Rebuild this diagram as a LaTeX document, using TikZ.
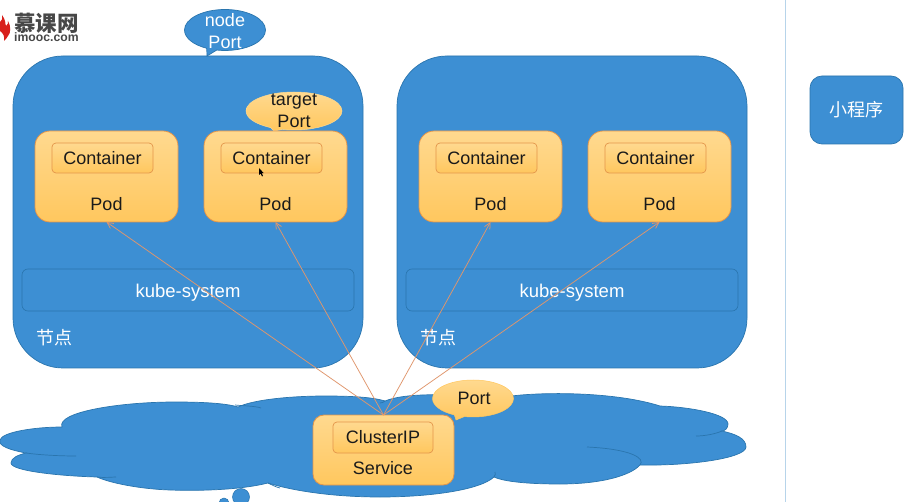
\documentclass[tikz,border=0pt]{standalone}
\usepackage{fontspec}
\setmainfont{Liberation Sans}
\newfontfamily\cjk{Noto Sans CJK SC}
\usetikzlibrary{shapes.callouts,arrows.meta}
\definecolor{kblue}{HTML}{3D8FD3}
\definecolor{kedge}{HTML}{2A75AE}
\definecolor{ktop}{HTML}{FFD98F}
\definecolor{kbot}{HTML}{FFC75E}
\definecolor{kor}{HTML}{E3954A}
\definecolor{ktxt}{HTML}{1A1A1A}
\definecolor{kwire}{HTML}{E0966C}
\definecolor{kdiv}{HTML}{B7D4EA}
\definecolor{kflame}{HTML}{D8201C}
\tikzset{
  x=1pt,y=-1pt,
  box/.style={rectangle,anchor=north west,inner sep=0pt,outer sep=0pt},
  nodebox/.style={box,fill=kblue,draw=kedge,line width=.7pt,rounded corners=50pt,minimum width=350pt,minimum height=312pt},
  sysbox/.style={box,fill=kblue,draw=kedge,line width=.6pt,rounded corners=6pt,minimum width=332pt,minimum height=42pt,text=white,font=\fontsize{18.5}{20}\selectfont,text height=15pt,text depth=0pt},
  podbox/.style={box,top color=ktop,bottom color=kbot,draw=kor,line width=.8pt,rounded corners=15pt,minimum width=143pt,minimum height=91pt},
  ctrbox/.style={box,top color=ktop,bottom color=kbot,draw=kor,line width=.7pt,rounded corners=4pt,minimum width=101pt,minimum height=30pt,text=ktxt,font=\fontsize{18}{20}\selectfont},
  blk/.style={text=ktxt,font=\fontsize{18}{20}\selectfont,inner sep=0pt},
  wht/.style={text=white,font=\fontsize{18}{20}\selectfont,inner sep=0pt},
  bubble/.style={ellipse callout,inner sep=0pt},
  bubtxt/.style={inner sep=0pt,align=center,font=\fontsize{18}{22}\selectfont},
  wire/.style={draw=kwire,line width=.75pt,-{Straight Barb[length=6pt,width=6pt]}},
  inner line/.style={draw=kedge,line width=.7pt},
}
\begin{document}
\begin{tikzpicture}
\useasboundingbox (0,0) rectangle (910,502);
\fill[white] (0,0) rectangle (910,502);
% divider
\coordinate (divtop) at (785,0);
\coordinate (divbot) at (785,502);
\draw[color=kdiv,line width=1pt] (divtop) -- (divbot);
% logo
\fill[kflame] (2,15) .. controls (6,20) and (5,24) .. (6,26) .. controls (8,25) and (8,23) .. (8,21)
  .. controls (11,26) and (11,33) .. (8,36) .. controls (7,38) and (5,40) .. (4,41)
  .. controls (5,36) and (3,33) .. (0,31)
  -- (0,22) .. controls (2,21) and (3,18) .. (2,15) -- cycle;
\node[anchor=west,inner sep=0pt,text=black!72] (logocn) at (14,23) {\cjk\bfseries\fontsize{21.5}{22}\selectfont 慕课网};
\node[anchor=west,inner sep=0pt,text=black!72] (logoen) at (14,37.5) {\bfseries\fontsize{12.2}{13}\selectfont imooc.com};
% blobs below the cloud
\fill[kblue,draw=kedge,line width=.5pt] (241,497) ellipse (8.5 and 8.5);
\fill[kblue,draw=kedge,line width=.5pt] (224,503) ellipse (5 and 5);
% cloud
\path[fill=kblue,draw=kedge,line width=.7pt]
  (62,427) .. controls (56,412) and (120,402) .. (175,402)
  .. controls (200,402) and (225,403) .. (238,407)
  .. controls (255,399) and (295,396) .. (325,396)
  .. controls (350,396) and (372,397) .. (385,401)
  .. controls (400,395) and (430,392) .. (500,398)
  .. controls (525,392) and (610,390) .. (660,406)
  .. controls (690,407) and (728,414) .. (728,424)
  .. controls (728,428) and (725,431) .. (722,431)
  .. controls (735,434) and (746,438) .. (746,447)
  .. controls (746,458) and (690,466) .. (640,465)
  .. controls (630,476) and (600,484) .. (560,484)
  .. controls (530,484) and (505,482) .. (494,477)
  .. controls (480,490) and (430,497) .. (380,497)
  .. controls (330,497) and (290,490) .. (268,483)
  .. controls (240,490) and (200,491) .. (170,490)
  .. controls (140,489) and (110,483) .. (97,477)
  .. controls (60,476) and (11,471) .. (11,463)
  .. controls (11,458) and (18,455) .. (26,453)
  .. controls (10,450) and (-2,446) .. (0,440)
  .. controls (2,432) and (35,427) .. (62,427) -- cycle;
\draw[inner line] (235,405) .. controls (245,406) and (255,406) .. (261,408);
\draw[inner line] (385,401) .. controls (384,402) and (382,403) .. (380,403);
\draw[inner line] (26,453) .. controls (40,455) and (60,456) .. (76,456);
\draw[inner line] (97,477) .. controls (105,478) and (112,477) .. (116,477);
\draw[inner line] (268,483) .. controls (272,485) and (276,487) .. (280,488);
\draw[inner line] (494,477) .. controls (495,475) and (496,474) .. (495,472);
\draw[inner line] (722,431) .. controls (715,434) and (705,436) .. (696,436);
\draw[inner line] (640,465) .. controls (646,458) and (630,449) .. (587,447);
% k8s nodes
\node[nodebox] (nodeA) at (13,56) {};
\node[nodebox] (nodeB) at (397,56) {};
\node[sysbox] (sysA) at (22,269) {kube-system};
\node[sysbox] (sysB) at (406,269) {kube-system};
\node[wht,font=\cjk\fontsize{18}{20}\selectfont] (labA) at (54,338) {节点};
\node[wht,font=\cjk\fontsize{18}{20}\selectfont] (labB) at (438,338) {节点};
% callouts
\node[bubble,fill=kblue,draw=kedge,line width=.7pt,minimum width=81pt,minimum height=41pt,callout absolute pointer={(207,56)}] (nodeport) at (225,30) {};
\node[bubtxt,text=white] (nodeporttxt) at (225,31) {node\\Port};
\node[bubble,top color=ktop,bottom color=kbot,draw=ktop,line width=.5pt,minimum width=96pt,minimum height=38pt,callout absolute pointer={(274,131)}] (targetport) at (294,111) {};
% pods
\node[podbox] (podA) at (35,131) {};
\node[podbox] (podB) at (204,131) {};
\node[podbox] (podC) at (419,131) {};
\node[podbox] (podD) at (588,131) {};
\node[bubtxt,text=ktxt] (targetporttxt) at (294,111) {target\\Port};
\node[ctrbox] (ctrA) at (52,143) {Container};
\node[ctrbox] (ctrB) at (221,143) {Container};
\node[ctrbox] (ctrC) at (436,143) {Container};
\node[ctrbox] (ctrD) at (605,143) {Container};
\node[blk] (ptA) at (106.5,204) {Pod};
\node[blk] (ptB) at (275.5,204) {Pod};
\node[blk] (ptC) at (490.5,204) {Pod};
\node[blk] (ptD) at (659.5,204) {Pod};
% cursor
\fill[black] (259,168) -- (259,175) -- (260.6,173.6) -- (262,176.5) -- (263,176) -- (261.8,173.2) -- (263.6,173) -- cycle;
% service
\node[bubble,top color=ktop,bottom color=kbot,draw=kbot,line width=.5pt,minimum width=81pt,minimum height=37pt,callout absolute pointer={(456,420)}] (portb) at (473,398.5) {};
\node[podbox,minimum width=141pt,minimum height=70pt,rounded corners=11pt] (svc) at (313,415) {};
\node[bubtxt,text=ktxt] (porttxt) at (474,398) {Port};
\node[ctrbox,minimum width=100pt,minimum height=31pt,rounded corners=4pt] (cip) at (333,422) {ClusterIP};
\node[blk] (svct) at (383,468) {Service};
% connectors
\draw[wire] (svc.north) -- (podA.south);
\draw[wire] (svc.north) -- (podB.south);
\draw[wire] (svc.north) -- (podC.south);
\draw[wire] (svc.north) -- (podD.south);
% mini program
\node[box,fill=kblue,draw=kedge,line width=.7pt,rounded corners=12pt,minimum width=93pt,minimum height=68pt,text=white,font=\cjk\fontsize{18}{20}\selectfont] (mini) at (810,76) {小程序};
\end{tikzpicture}
\end{document}
